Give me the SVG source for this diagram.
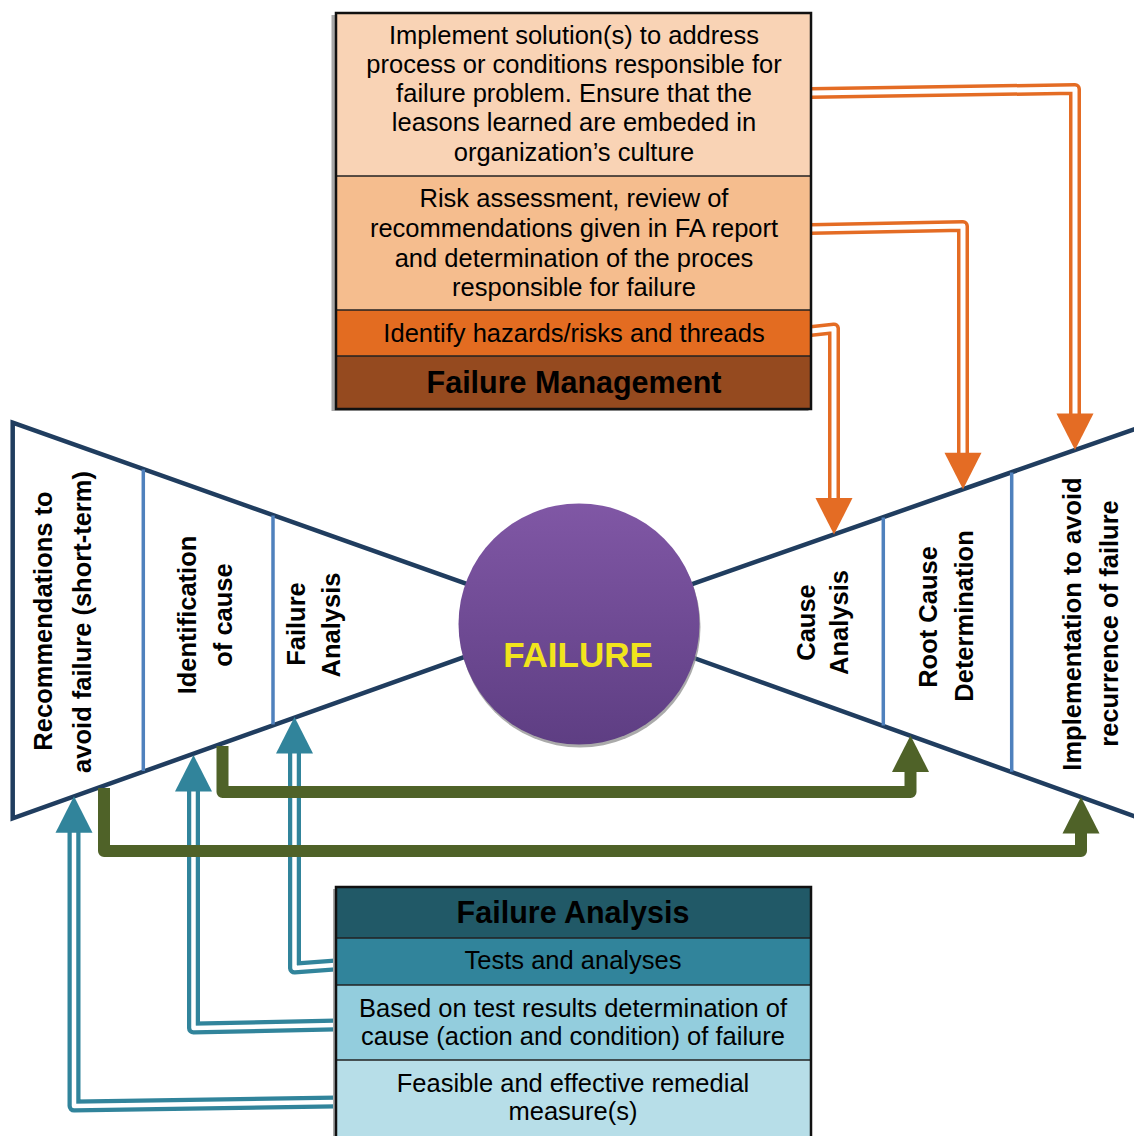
<svg xmlns="http://www.w3.org/2000/svg" xmlns:xlink="http://www.w3.org/1999/xlink" width="1134" height="1136" viewBox="0 0 1134 1136">
<style>
  .t { font-family: "Liberation Sans", Arial, sans-serif; font-size: 25.5px; fill: #000; text-anchor: middle; }
  .b { font-weight: bold; }
  .h { font-family: "Liberation Sans", Arial, sans-serif; font-size: 30.5px; font-weight: bold; fill: #000; text-anchor: middle; }
  .frame { fill: none; stroke: #203D5F; stroke-width: 4.5; stroke-linejoin: miter; }
  .div { stroke: #4F81BD; stroke-width: 3.5; fill: none; }
  .row { stroke: #222; stroke-width: 1.5; }
  .oOut { fill: none; stroke: #E46C24; stroke-width: 12; stroke-linejoin: round; }
  .oIn { fill: none; stroke: #fff; stroke-width: 5; stroke-linejoin: round; }
  .tOut { fill: none; stroke: #31849B; stroke-width: 13; stroke-linejoin: round; }
  .tIn { fill: none; stroke: #fff; stroke-width: 4.5; stroke-linejoin: round; }
  .g { fill: none; stroke: #4F6228; stroke-width: 12; stroke-linejoin: round; }
</style>
<defs>
  <path id="up" d="M0,0 L18.5,36.5 L-18.5,36.5 Z"/>
  <path id="down" d="M0,0 L18.5,-36.5 L-18.5,-36.5 Z"/>
  <linearGradient id="purp" x1="0" y1="0" x2="0" y2="1">
    <stop offset="0" stop-color="#8057A5"/>
    <stop offset="1" stop-color="#5E3E83"/>
  </linearGradient>
</defs>
<rect x="0" y="0" width="1134" height="1136" fill="#fff"/>

<g id="left-funnel">
  <polygon class="frame" points="12.7,422.7 480,588.6 480,651.3 12.7,818.3"/>
  <line class="div" x1="143.3" y1="469.5" x2="143.3" y2="771"/>
  <line class="div" x1="273" y1="515.5" x2="273" y2="724.5"/>
  <text class="t b" transform="translate(52,621) rotate(-90)">Recommendations to</text>
  <text class="t b" transform="translate(90.5,622) rotate(-90)">avoid failure (short-term)</text>
  <text class="t b" transform="translate(196,615) rotate(-90)">Identification</text>
  <text class="t b" transform="translate(231.5,615) rotate(-90)">of cause</text>
  <text class="t b" transform="translate(305,624) rotate(-90)">Failure</text>
  <text class="t b" transform="translate(340,625) rotate(-90)">Analysis</text>
</g>

<g id="right-funnel">
  <polyline class="frame" points="1140,427.3 680,588.3 680,653 1140,818.2"/>
  <line class="div" x1="883.3" y1="517.5" x2="883.3" y2="725.5"/>
  <line class="div" x1="1011.7" y1="472.5" x2="1011.7" y2="771.8"/>
  <text class="t b" transform="translate(815,622.5) rotate(-90)">Cause</text>
  <text class="t b" transform="translate(848,622.5) rotate(-90)">Analysis</text>
  <text class="t b" transform="translate(937,617) rotate(-90)">Root Cause</text>
  <text class="t b" transform="translate(973,616) rotate(-90)">Determination</text>
  <text class="t b" transform="translate(1081,624) rotate(-90)">Implementation to avoid</text>
  <text class="t b" transform="translate(1118,623.5) rotate(-90)">recurrence of failure</text>
</g>

<g id="failure">
  <circle cx="580" cy="627" r="120.5" fill="#8E8E8E" opacity="0.75"/>
  <circle cx="579" cy="624" r="120.5" fill="url(#purp)"/>
  <text x="578" y="667" font-family="Liberation Sans, Arial, sans-serif" font-size="35" font-weight="bold" fill="#F1E41C" text-anchor="middle">FAILURE</text>
</g>

<g id="connectors">
  <path class="oOut" d="M811,93 L1075,89 L1075,416"/>
  <path class="oIn" d="M811,93 L1075,89 L1075,416"/>
  <use href="#down" x="1075" y="450" fill="#E46C24"/>
  <path class="oOut" d="M811,229 L963,226 L963,455"/>
  <path class="oIn" d="M811,229 L963,226 L963,455"/>
  <use href="#down" x="963" y="489.2" fill="#E46C24"/>
  <path class="oOut" d="M811,331 L834,328.5 L834,500"/>
  <path class="oIn" d="M811,331 L834,328.5 L834,500"/>
  <use href="#down" x="834" y="534.6" fill="#E46C24"/>

  <path class="tOut" d="M335,965 L294.5,968 L294.5,752"/>
  <path class="tIn" d="M335,965 L294.5,968 L294.5,752"/>
  <use href="#up" x="294.5" y="717" fill="#31849B"/>
  <path class="tOut" d="M335,1025 L193.5,1028 L193.5,790"/>
  <path class="tIn" d="M335,1025 L193.5,1028 L193.5,790"/>
  <use href="#up" x="193.5" y="755" fill="#31849B"/>
  <path class="tOut" d="M335,1102 L74,1106 L74,831"/>
  <path class="tIn" d="M335,1102 L74,1106 L74,831"/>
  <use href="#up" x="74" y="796.2" fill="#31849B"/>

  <path class="g" d="M222.5,746 L222.5,792 L910.5,792 L910.5,770"/>
  <use href="#up" x="910.5" y="735.4" fill="#4F6228"/>
  <path class="g" d="M104,788 L104,851 L1081,851 L1081,831"/>
  <use href="#up" x="1081" y="797" fill="#4F6228"/>
</g>

<g id="failure-management">
  <rect x="331.5" y="15" width="477" height="396" fill="#A8A8A8"/>
  <rect x="336" y="13" width="475" height="163" fill="#F9D3B5"/>
  <rect x="336" y="176" width="475" height="134" fill="#F5BD8E"/>
  <rect x="336" y="310" width="475" height="46" fill="#E36C21"/>
  <rect x="336" y="356" width="475" height="53" fill="#954A1F"/>
  <line class="row" x1="336" y1="176" x2="811" y2="176"/>
  <line class="row" x1="336" y1="310" x2="811" y2="310"/>
  <line class="row" x1="336" y1="356" x2="811" y2="356"/>
  <rect x="336" y="13" width="475" height="396" fill="none" stroke="#111" stroke-width="2.5"/>
  <text class="t" x="574" y="43.5">Implement solution(s) to address</text>
  <text class="t" x="574" y="72.8">process or conditions responsible for</text>
  <text class="t" x="574" y="102">failure problem. Ensure that the</text>
  <text class="t" x="574" y="131.3">leasons learned are embeded in</text>
  <text class="t" x="574" y="160.6">organization’s culture</text>
  <text class="t" x="574" y="207.3">Risk assessment, review of</text>
  <text class="t" x="574" y="237">recommendations given in FA report</text>
  <text class="t" x="574" y="266.6">and determination of the proces</text>
  <text class="t" x="574" y="296">responsible for failure</text>
  <text class="t" x="574" y="341.7">Identify hazards/risks and threads</text>
  <text class="h" x="574" y="393">Failure Management</text>
</g>

<g id="failure-analysis">
  <rect x="333" y="889" width="477" height="250" fill="#A8A8A8"/>
  <rect x="336" y="887" width="475" height="51" fill="#215967"/>
  <rect x="336" y="938" width="475" height="47" fill="#31849B"/>
  <rect x="336" y="985" width="475" height="75" fill="#93CDDD"/>
  <rect x="336" y="1060" width="475" height="80" fill="#B7DEE8"/>
  <line class="row" x1="336" y1="938" x2="811" y2="938"/>
  <line class="row" x1="336" y1="985" x2="811" y2="985"/>
  <line class="row" x1="336" y1="1060" x2="811" y2="1060"/>
  <rect x="336" y="887" width="475" height="260" fill="none" stroke="#111" stroke-width="2.5"/>
  <text class="h" x="573" y="922.7">Failure Analysis</text>
  <text class="t" x="573" y="969.3">Tests and analyses</text>
  <text class="t" x="573" y="1016.7">Based on test results determination of</text>
  <text class="t" x="573" y="1045">cause (action and condition) of failure</text>
  <text class="t" x="573" y="1091.7">Feasible and effective remedial</text>
  <text class="t" x="573" y="1120">measure(s)</text>
</g>
</svg>
